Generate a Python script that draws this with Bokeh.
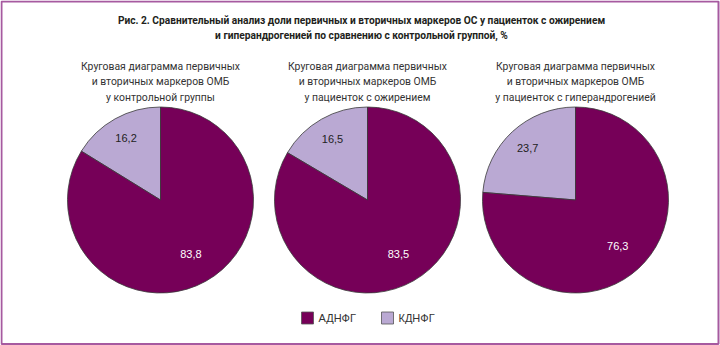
import math
from bokeh.plotting import figure
from bokeh.models import ColumnDataSource
from bokeh.core.properties import value
from bokeh.embed import file_html
from bokeh.resources import INLINE

W, H = 720, 345

title_lines = [
    "Рис. 2. Сравнительный анализ доли первичных и вторичных маркеров ОС у пациенток с ожирением",
    "и гиперандрогенией по сравнению с контрольной группой, %",
]
subtitles = [
    ["Круговая диаграмма первичных", "и вторичных маркеров ОМБ", "у контрольной группы"],
    ["Круговая диаграмма первичных", "и вторичных маркеров ОМБ", "у пациенток с ожирением"],
    ["Круговая диаграмма первичных", "и вторичных маркеров ОМБ", "у пациенток с гиперандрогенией"],
]
series_names = ["АДНФГ", "КДНФГ"]
adnfg = [83.8, 83.5, 76.3]
kdnfg = [16.2, 16.5, 23.7]
labels_adnfg = ["83,8", "83,5", "76,3"]
labels_kdnfg = ["16,2", "16,5", "23,7"]

DARK = "#760058"
LIGHT = "#baa9d3"
EDGE = "#3a3a3a"

# layout (pixel positions)
centers_x = [160, 367, 575]
center_y_px = 199.5
R = 93

def Y(py):
    return H - py

p = figure(width=W, height=H, x_range=(0, W), y_range=(0, H),
           output_backend="svg", toolbar_location=None, min_border=0)
p.axis.visible = False
p.grid.visible = False
p.outline_line_color = None
p.background_fill_color = "white"
p.border_fill_color = "white"

# frame border
p.quad(left=[1], right=[718], bottom=[Y(343.5)], top=[Y(1)],
       fill_color=None, line_color="#a65aa0", line_width=2)

# wedges
wx, wy, ws, we, wc = [], [], [], [], []
for i, cx in enumerate(centers_x):
    frac = kdnfg[i] / (kdnfg[i] + adnfg[i])
    a_light_end = 90 + frac * 360
    wx.append(cx); wy.append(Y(center_y_px)); ws.append(90); we.append(a_light_end); wc.append(LIGHT)
    wx.append(cx); wy.append(Y(center_y_px)); ws.append(a_light_end); we.append(450); wc.append(DARK)
src = ColumnDataSource(dict(x=wx, y=wy, s=ws, e=we, c=wc))
p.wedge(x="x", y="y", radius=R, start_angle="s", end_angle="e",
        start_angle_units="deg", end_angle_units="deg",
        fill_color="c", line_color=EDGE, line_width=0.8, source=src)

# slice labels
lx, ly, lt, lc = [], [], [], []
for i, cx in enumerate(centers_x):
    frac = kdnfg[i] / (kdnfg[i] + adnfg[i])
    mid_l = math.radians(90 + frac * 180)
    mid_d = math.radians(90 + frac * 360 + (1 - frac) * 180)
    rl, rd = 0.76 * R, 0.67 * R
    lx.append(cx + rl * math.cos(mid_l)); ly.append(Y(center_y_px) + rl * math.sin(mid_l))
    lt.append(labels_kdnfg[i]); lc.append("#222222")
    lx.append(cx + rd * math.cos(mid_d)); ly.append(Y(center_y_px) + rd * math.sin(mid_d))
    lt.append(labels_adnfg[i]); lc.append("#ffffff")
p.text(x=lx, y=ly, text=lt, text_color=lc, text_align="center", text_baseline="middle",
       text_font=value("Liberation Sans"), text_font_size="11px")

# title
p.text(x=[361, 361], y=[Y(20), Y(35)], text=title_lines, text_align="center",
       text_baseline="middle", text_font=value("Roboto"),
       text_font_style="bold", text_font_size="10.2px", text_color="#231f20")

# subtitles
sx, sy, st = [], [], []
for i, cx in enumerate(centers_x):
    for j, line in enumerate(subtitles[i]):
        sx.append(cx); sy.append(Y(66 + j * 15.3)); st.append(line)
p.text(x=sx, y=sy, text=st, text_align="center", text_baseline="middle",
       text_font=value("Roboto"), text_font_size="10.4px", text_color="#333333")

# legend
leg_x = [301, 381]
p.rect(x=[lx0 + 6 for lx0 in leg_x], y=[Y(317.5)] * 2, width=12, height=12,
       fill_color=[DARK, LIGHT], line_color="#555555", line_width=0.8)
p.text(x=[lx0 + 17 for lx0 in leg_x], y=[Y(317.5)] * 2, text=series_names,
       text_align="left", text_baseline="middle", text_font=value("Liberation Sans"),
       text_font_size="11px", text_color="#333333")

open("out.html", "w").write(file_html(p, INLINE))
